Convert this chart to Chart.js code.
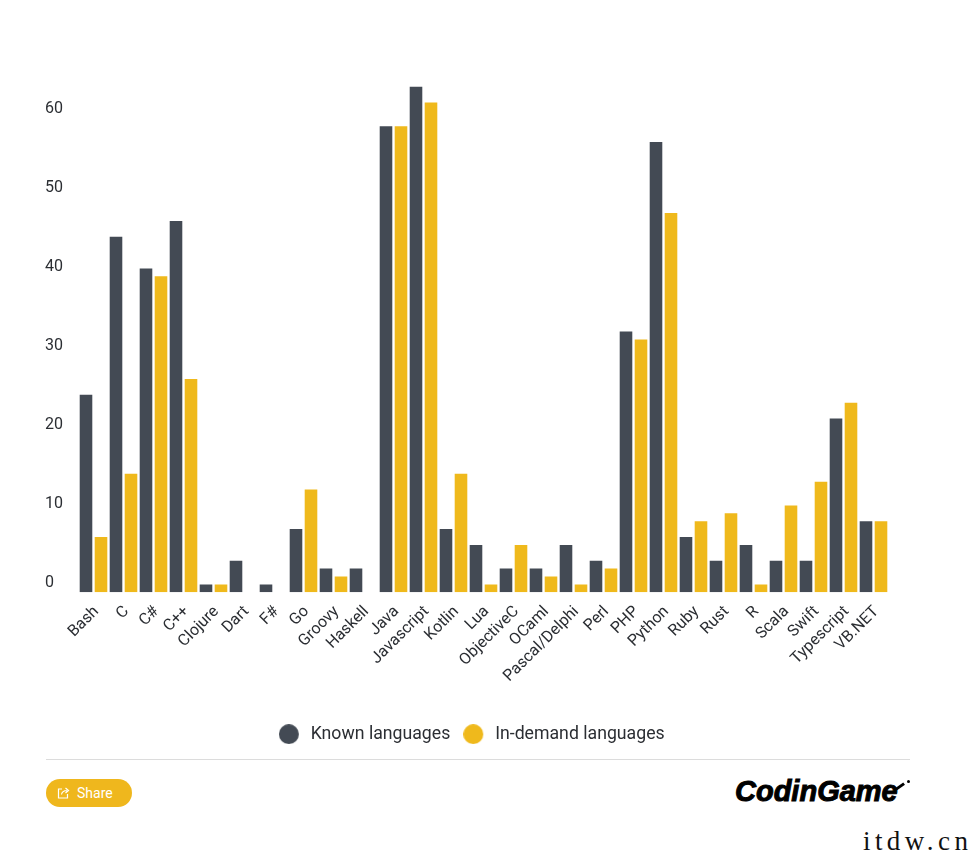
<!DOCTYPE html>
<html>
<head>
<meta charset="utf-8">
<style>
  body { margin: 0; background: #fff; font-family: Roboto, sans-serif; }
  #wrap { position: relative; width: 976px; height: 859px; overflow: hidden; }
  #chart { position: absolute; left: 0; top: 0; }
  #rule { position: absolute; left: 46px; top: 759px; width: 864px; height: 1px; background: #dcdcdc; }
  #share { position: absolute; left: 46px; top: 779px; width: 86px; height: 28px; border-radius: 14px;
           background: #efb71d; color: #fff; font-size: 14px; line-height: 28px; }
  #share svg { position: absolute; left: 11px; top: 7px; }
  #share span { position: absolute; left: 31px; }
  #logo { position: absolute; left: 735px; top: 775px; font: italic bold 29px "Liberation Sans", sans-serif;
          color: #000; -webkit-text-stroke: 1px #000; }
  #swoosh { position: absolute; left: 895px; top: 785px; width: 10px; height: 3px; background: #000; transform: rotate(-35deg); }
  #dot { position: absolute; left: 907px; top: 780px; width: 3px; height: 3px; border-radius: 2px; background: #000; }
  #mark { position: absolute; left: 863px; top: 826px; font: 27px "Liberation Serif", serif; color: #111; letter-spacing: 4.4px; }
</style>
</head>
<body>
<div id="wrap">
  <canvas id="chart" width="976" height="753"></canvas>
  <div id="rule"></div>
  <div id="share">
    <svg width="14" height="14" viewBox="0 0 14 14" fill="none" stroke="#fff" stroke-width="1.2">
      <path d="M5 3H1.5v9h9V8"/><path d="M4.5 8.5C5 5.5 7.5 4.5 10 4.5M8.5 2l3 2.5-3 2.5"/>
    </svg>
    <span>Share</span>
  </div>
  <div id="logo">CodinGame</div>
  <div id="swoosh"></div>
  <div id="dot"></div>
  <div id="mark">itdw.cn</div>
</div>
<script src="https://cdn.jsdelivr.net/npm/chart.js@4"></script>
<script>
const languages = ["Bash", "C", "C#", "C++", "Clojure", "Dart", "F#", "Go", "Groovy", "Haskell", "Java",
  "Javascript", "Kotlin", "Lua", "ObjectiveC", "OCaml", "Pascal/Delphi", "Perl", "PHP", "Python", "Ruby",
  "Rust", "R", "Scala", "Swift", "Typescript", "VB.NET"];

const known = [25, 45, 41, 47, 1, 4, 1, 8, 3, 3, 59, 64, 8, 6, 3, 3, 6, 4, 33, 57, 7, 4, 6, 4, 4, 22, 9];
const inDemand = [7, 15, 40, 27, 1, 0, 0, 13, 2, 0, 59, 62, 15, 1, 6, 2, 1, 3, 32, 48, 9, 10, 1, 11, 14, 24, 9];

const textColor = "#2b2e33";
const knownColor = "#434a54";
const demandColor = "#efb91c";

// legend marker: a 20px dot with some room on its right, the legend has no option for that gap
function legendDot(color) {
  const c = document.createElement("canvas");
  c.width = 23;
  c.height = 20;
  const ctx = c.getContext("2d");
  ctx.fillStyle = color;
  ctx.beginPath();
  ctx.arc(10, 10, 10, 0, Math.PI * 2);
  ctx.fill();
  return c;
}

// the legend sits a little right of the centre of the layout box
const legendShift = {
  id: "legendShift",
  afterLayout(chart) {
    chart.legend.left += 5;
    chart.legend.right += 5;
  }
};

new Chart(document.getElementById("chart"), {
  type: "bar",
  plugins: [legendShift],
  data: {
    labels: languages,
    datasets: [
      { label: "Known languages", data: known, backgroundColor: knownColor, pointStyle: legendDot(knownColor) },
      { label: "In-demand languages", data: inDemand, backgroundColor: demandColor, pointStyle: legendDot(demandColor) }
    ]
  },
  options: {
    responsive: false,
    animation: false,
    devicePixelRatio: 1,
    categoryPercentage: 1,
    barPercentage: 0.84,
    layout: { padding: { left: 45, right: 87.5, top: 80, bottom: 0 } },
    scales: {
      x: {
        grid: { display: false },
        border: { display: false },
        ticks: { color: textColor, font: { family: "Roboto", size: 16 }, minRotation: 45, maxRotation: 45, autoSkip: false, padding: 2, labelOffset: 3 },
        afterFit: (scale) => { scale.height = 120; }
      },
      y: {
        min: 0,
        max: 64.85,
        grid: { display: false },
        border: { display: false },
        ticks: { stepSize: 10, color: textColor, font: { family: "Roboto", size: 16 }, crossAlign: "far", labelOffset: -9 },
        afterBuildTicks: (scale) => { scale.ticks = scale.ticks.filter((t) => t.value % 10 === 0); },
        afterFit: (scale) => { scale.width = 33.5; }
      }
    },
    plugins: {
      tooltip: { enabled: false },
      legend: {
        position: "bottom",
        labels: {
          usePointStyle: true,
          pointStyleWidth: 23,
          boxHeight: 14,
          color: textColor,
          padding: 13,
          font: { family: "Roboto", size: 17.7 }
        }
      }
    }
  }
});
</script>
</body>
</html>
